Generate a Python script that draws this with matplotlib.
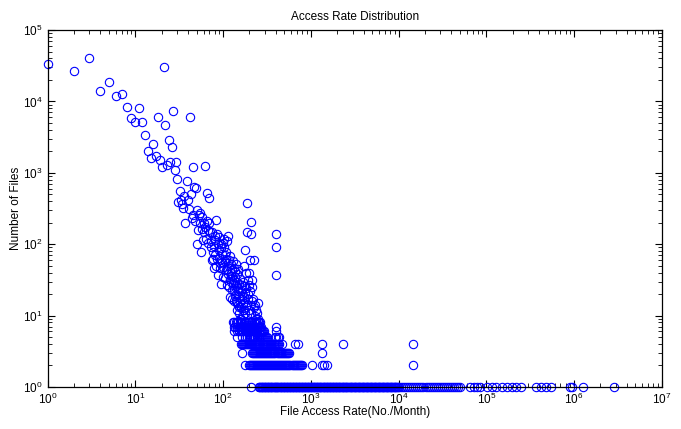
import matplotlib
matplotlib.use("Agg")
import matplotlib.pyplot as plt
from matplotlib.ticker import LogLocator, NullFormatter

plt.rcParams['font.family'] = ['Liberation Sans Narrow', 'Liberation Sans', 'DejaVu Sans']
plt.rcParams['mathtext.fontset'] = 'custom'
plt.rcParams['mathtext.rm'] = 'Liberation Sans Narrow'
plt.rcParams['mathtext.it'] = 'Liberation Sans Narrow'
plt.rcParams['mathtext.default'] = 'regular'

# files accessed 1..30 times per month
head_rate = list(range(1, 31))
head_files = [33000, 27000, 41000, 14000, 19000, 12000, 12600, 8400, 5800, 5200,
              8000, 5100, 3400, 2050, 1600, 2500, 1700, 6000, 1500, 1200,
              30000, 4700, 1300, 2900, 1400, 2300, 7300, 1100, 1400, 810]

# the falling band (counts >= 9)
band_rate = [31, 32, 33, 34, 35, 36, 37, 39, 40, 41, 42, 43, 45, 46, 47, 48, 49, 50,
             51, 52, 53, 54, 56, 58, 59, 60, 61, 62, 65, 67, 69, 70, 72, 74, 76, 78,
             80, 83, 85, 86, 88, 90, 92, 94, 96, 98, 100, 103, 105, 107, 109, 111,
             113, 115, 117, 119, 121, 123, 125, 128, 130, 132, 134, 136, 139, 141,
             143, 145, 148, 150, 152, 155, 159, 162, 165, 168, 173, 174, 176, 180,
             181, 187, 188, 190, 195, 196, 197, 202, 204, 206, 207, 210, 213, 214,
             215, 224, 230, 234, 240, 244, 250, 397, 398, 399,
             44, 55, 57, 63, 64, 66, 68, 71, 73, 75, 77, 79, 81, 82, 84, 87, 89, 91,
             93, 95, 97, 99, 101, 102, 104, 106, 108, 110, 112, 114, 116, 118, 120,
             122, 124, 126, 127, 129, 131, 133, 135, 137, 138, 140, 142, 144, 146,
             147, 149, 151, 153, 154, 156, 158, 160, 163, 166, 167, 170, 171, 175,
             177, 179, 184, 185, 192, 193, 199, 208, 218, 226, 238, 248]
band_files = [390, 560, 420, 371, 320, 470, 195, 780, 410, 315, 6000, 500, 1200, 260,
              630, 210, 620, 102, 300, 157, 260, 270, 78, 240, 114, 195, 149, 1250,
              520, 157, 195, 440, 92, 60, 78, 46, 130, 220, 63, 141, 37, 82, 46, 28,
              100, 57, 35, 120, 70, 78, 43, 27, 55, 129, 60, 33, 18, 40, 23, 43, 27,
              23, 16, 35, 16, 20, 12, 30, 14, 22, 11, 9, 9, 13, 17, 10, 12, 50, 84,
              26, 39, 380, 149, 14, 20, 27, 39, 60, 22, 205, 141, 11, 31, 16, 25, 61,
              10, 14, 9, 11, 9, 138, 90, 37,
              230, 200, 165, 175, 120, 210, 105, 150, 110, 150, 62, 95, 70, 115, 50,
              100, 65, 125, 55, 88, 72, 105, 48, 92, 58, 34, 62, 110, 45, 38, 50, 25,
              68, 30, 52, 36, 17, 58, 29, 47, 32, 42, 19, 26, 52, 38, 15, 24, 45, 18,
              28, 13, 33, 16, 22, 19, 27, 12, 15, 30, 18, 21, 11, 13, 24, 17, 32, 12,
              14, 17, 13, 12, 15]

# small counts, one list of rates per count
rate_8 = [130, 135, 140, 145, 150, 155, 161, 166, 172, 178, 185, 192, 200, 208, 216,
          224, 232, 240, 252, 258, 267]
rate_7 = [133, 138, 146, 151, 156, 161, 166, 171, 176, 182, 189, 195, 201, 207, 214,
          221, 228, 235, 242, 249, 256, 263, 270, 402]
rate_6 = [135, 145, 152, 159, 165, 171, 176, 182, 188, 194, 200, 205, 211, 216, 222,
          228, 234, 241, 247, 254, 261, 268, 275, 283, 290, 405]
rate_5 = [145, 165, 180, 188, 197, 205, 211, 216, 222, 228, 234, 241, 247, 254, 261,
          268, 275, 283, 290, 298, 306, 313, 394, 405, 418, 430]
rate_4 = [161, 165, 170, 174, 179, 184, 189, 194, 199, 205, 210, 216, 222, 228, 234,
          240, 247, 253, 260, 267, 275, 282, 290, 298, 306, 314, 323, 331, 340, 350,
          359, 369, 379, 389, 400, 411, 422, 430, 476, 662, 722, 1325, 2350, 14660]
rate_3 = [165, 214, 220, 226, 232, 238, 245, 251, 258, 265, 272, 280, 287, 295, 303,
          311, 320, 328, 337, 346, 356, 365, 375, 385, 396, 407, 418, 429, 440, 452,
          465, 477, 490, 503, 517, 531, 545, 560, 1325]
rate_2 = [180, 197, 202, 208, 213, 219, 225, 231, 237, 243, 250, 257, 264, 271, 278,
          286, 293, 301, 309, 318, 326, 335, 344, 354, 363, 373, 383, 394, 404, 415,
          426, 438, 450, 462, 474, 487, 500, 514, 528, 542, 556, 571, 587, 603, 619,
          636, 653, 670, 688, 707, 726, 746, 766, 787, 1020, 1325, 1420, 1550, 14660]
rate_1 = [210, 255, 260, 265, 270, 276, 281, 287, 292, 298, 304, 310, 316, 323, 329,
          336, 342, 349, 356, 363, 371, 378, 386, 393, 401, 409, 417, 426, 434, 443,
          452, 461, 470, 479, 489, 499, 509, 519, 529, 540, 551, 562, 573, 584, 596,
          608, 620, 633, 645, 658, 671, 685, 698, 712, 727, 741, 756, 771, 787, 802,
          818, 835, 851, 868, 886, 903, 921, 940, 959, 978, 997, 1017, 1037, 1058,
          1079, 1101, 1123, 1145, 1168, 1192, 1215, 1240, 1264, 1290, 1315, 1342,
          1368, 1396, 1424, 1452, 1481, 1511, 1541, 1572, 1603, 1635, 1668, 1701,
          1735, 1770, 1805, 1842, 1878, 1916, 1954, 1993,
          2030, 2070, 2110, 2160, 2200, 2250, 2300, 2350, 2400, 2450, 2500, 2550,
          2610, 2660, 2720, 2780, 2840, 2900, 2960, 3020, 3090, 3150, 3220, 3290,
          3360, 3430, 3500, 3580, 3650, 3730, 3810, 3890, 3970, 4060, 4140, 4230,
          4320, 4410, 4510, 4600, 4700, 4800, 4900, 5010, 5110, 5220, 5330, 5450,
          5560, 5680, 5800, 5930, 6050, 6180, 6310, 6450, 6590, 6730, 6870, 7020,
          7170, 7320, 7470, 7630, 7800, 7960, 8130, 8310, 8480, 8660, 8850, 9040,
          9230, 9430, 9630, 9830,
          10100, 10700, 11300, 11900, 12500, 13200, 13900, 14700, 15500, 16400,
          17300, 18200, 19200, 20300, 21400, 22600, 23800, 25100, 26500, 28000,
          29500, 31100, 32800, 34600, 36500, 38500, 40600, 42800, 45200, 47700,
          50600, 65000, 72000, 78000, 85000, 101000, 115000, 130000, 150000,
          170000, 194000, 220000, 250000, 370000, 420000, 480000, 540000, 910000,
          950000, 1250000, 2850000]

rows = {8: rate_8, 7: rate_7, 6: rate_6, 5: rate_5, 4: rate_4, 3: rate_3, 2: rate_2, 1: rate_1}

x_ticks = [1, 10, 100, 1e3, 1e4, 1e5, 1e6, 1e7]
y_ticks = [1, 10, 100, 1e3, 1e4, 1e5]

x = head_rate + band_rate
y = head_files + band_files
for n, rates in rows.items():
    x += rates
    y += [n] * len(rates)

fig = plt.figure(figsize=(6.81, 4.29), dpi=100)
ax = fig.add_axes([0.0698, 0.098, 0.902, 0.832])
ax.plot(x, y, 'o', mfc='none', mec=(0, 0, 1), ms=6, mew=0.8, clip_on=False)
ax.set_xscale('log')
ax.set_yscale('log')
ax.set_xticks(x_ticks)
ax.set_yticks(y_ticks)
ax.set_xlim(1, 1e7)
ax.set_ylim(1, 1e5)

ax.xaxis.set_minor_locator(LogLocator(base=10, subs=range(2, 10), numticks=20))
ax.xaxis.set_minor_formatter(NullFormatter())
ax.yaxis.set_minor_formatter(NullFormatter())
ax.tick_params(which='both', direction='in', top=True, right=True, labelsize=8.5)
ax.tick_params(which='major', length=5, width=0.8)
ax.tick_params(which='minor', length=3, width=0.6)
for s in ax.spines.values():
    s.set_linewidth(0.9)

ax.set_title('Access Rate Distribution', fontsize=8.5, pad=7)
ax.set_xlabel('File Access Rate(No./Month)', fontsize=8.5, labelpad=-1)
ax.set_ylabel('Number of Files', fontsize=8.5)
ax.yaxis.set_label_coords(-0.042, 0.5)

fig.savefig('out.png', dpi=100)
